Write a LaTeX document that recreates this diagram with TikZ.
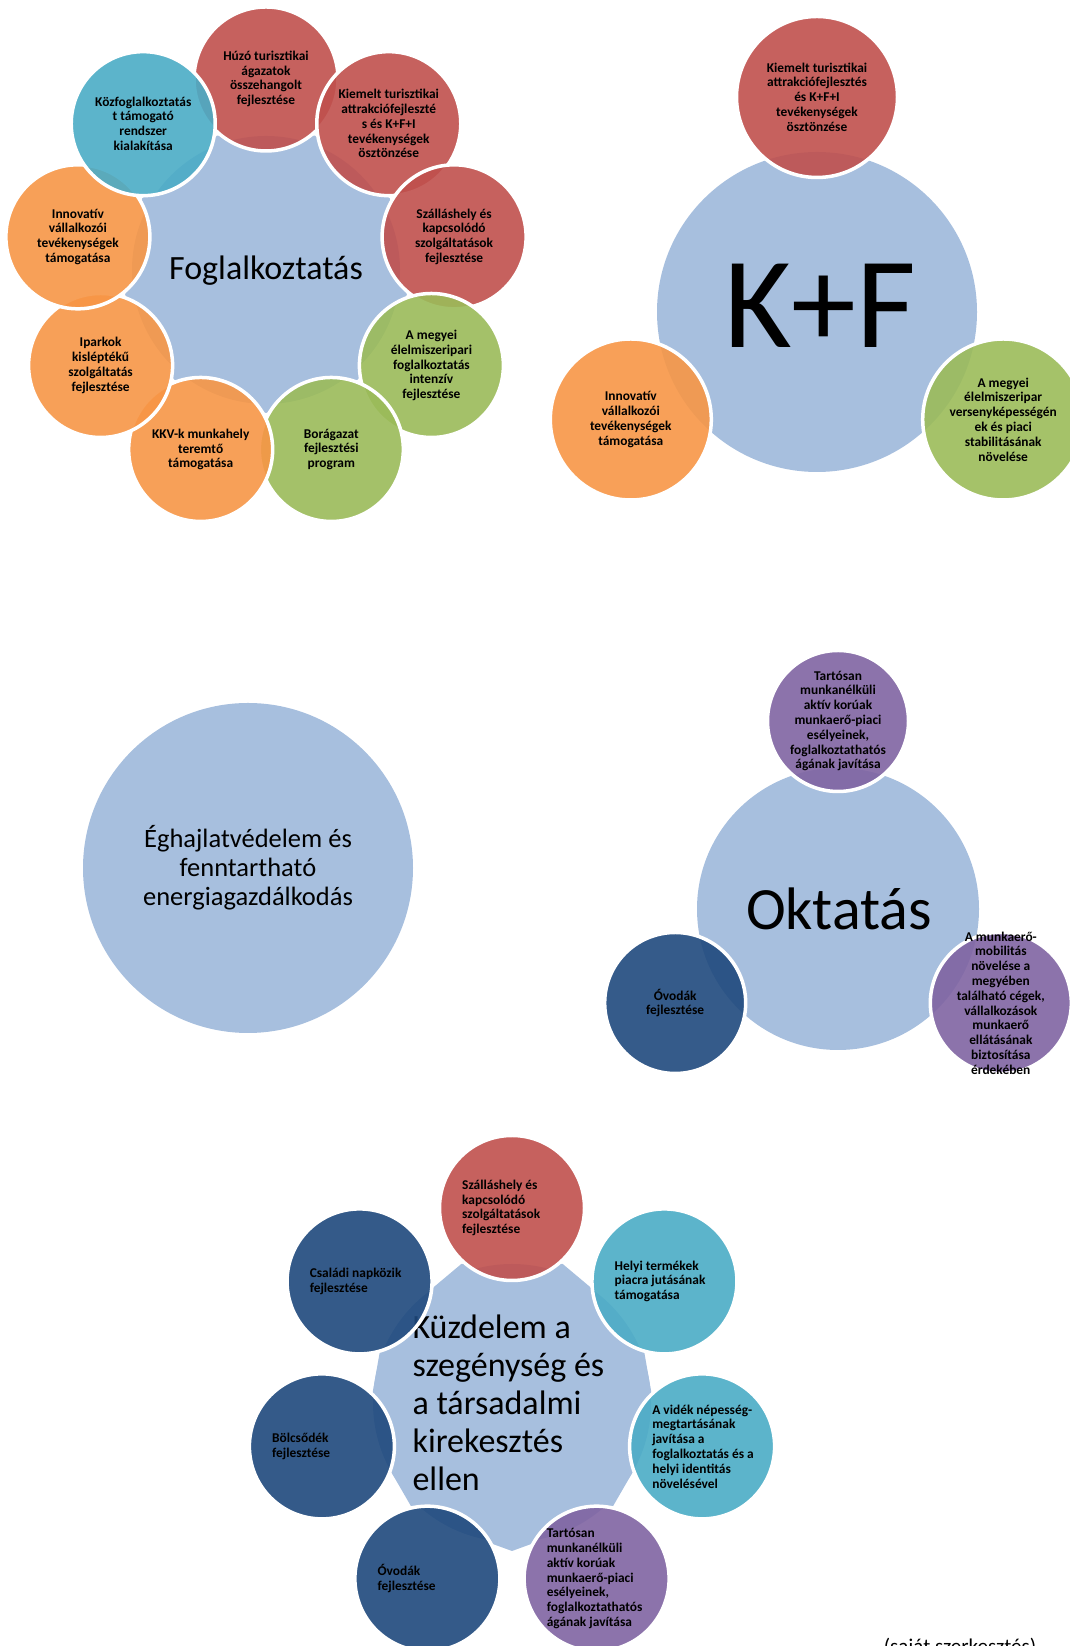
\documentclass[tikz,border=0pt]{standalone}
\usepackage{fontspec}
\setmainfont{Carlito}
\usetikzlibrary{calc}
\definecolor{cblue}{HTML}{A7BFDE}
\definecolor{cred}{HTML}{C0504D}
\definecolor{cgreen}{HTML}{9BBB59}
\definecolor{corange}{HTML}{F79646}
\definecolor{cteal}{HTML}{4BACC6}
\definecolor{cpurple}{HTML}{8064A2}
\definecolor{cnavy}{HTML}{1F497D}
\tikzset{
  satbase/.style={circle, draw=white, line width=3.5pt, fill opacity=0.9, draw opacity=1, inner sep=0pt},
  sata/.style={satbase, minimum size=144pt},
  satb/.style={satbase, minimum size=161pt},
  satc/.style={satbase, minimum size=141pt},
  satd/.style={satbase, minimum size=145pt},
  stxt/.style={font=\bfseries\fontsize{13.4}{14.8}\selectfont, align=center, inner sep=0pt, text=black},
  ltxt/.style={font=\bfseries\fontsize{13.4}{14.8}\selectfont, align=left, inner sep=0pt, anchor=west, text=black},
  hub/.style={circle, fill=cblue, inner sep=0pt},
}
\begin{document}
\begin{tikzpicture}[x=1pt,y=1pt]
\useasboundingbox (0,0) rectangle (1070,1646);
\clip (0,0) rectangle (1070,1646);

% ---------------- Section 1: Foglalkoztatás ----------------
\coordinate (c1) at (266,1376);
\fill[cblue] ($(c1)+(30:143)$) \foreach \a in {70,110,...,390} { -- ($(c1)+(\a:143)$) } -- cycle;
\foreach \a in {90,50,10,-30,-70,-110,-150,170,130} { \fill[white] ($(c1)+(\a:191)$) circle (72); }
\fill[cblue] (c1) circle (134);
\node[font=\fontsize{34}{40}\selectfont, anchor=base] (f0) at (266,1366) {Foglalkoztatás};
\node[sata, fill=cred]    (f1) at ($(c1)+(90:191)$) {};
\node[sata, fill=cred]    (f2) at ($(c1)+(50:191)$) {};
\node[sata, fill=cred]    (f3) at ($(c1)+(10:191)$) {};
\node[sata, fill=cgreen]  (f4) at ($(c1)+(-30:191)$) {};
\node[sata, fill=cgreen]  (f5) at ($(c1)+(-70:191)$) {};
\node[sata, fill=corange] (f6) at ($(c1)+(-110:191)$) {};
\node[sata, fill=corange] (f7) at ($(c1)+(-150:191)$) {};
\node[sata, fill=corange] (f8) at ($(c1)+(170:191)$) {};
\node[sata, fill=cteal]   (f9) at ($(c1)+(130:191)$) {};
\node[stxt] (f1t) at (f1) {Húzó turisztikai\\ágazatok\\összehangolt\\fejlesztése};
\node[stxt] (f2t) at (f2) {Kiemelt turisztikai\\attrakciófejleszté\\s és K+F+I\\tevékenységek\\ösztönzése};
\node[stxt] (f3t) at (f3) {Szálláshely és\\kapcsolódó\\szolgáltatások\\fejlesztése};
\node[stxt] (f4t) at (f4) {A megyei\\élelmiszeripari\\foglalkoztatás\\intenzív\\fejlesztése};
\node[stxt] (f5t) at (f5) {Borágazat\\fejlesztési\\program};
\node[stxt] (f6t) at (f6) {KKV-k munkahely\\teremtő\\támogatása};
\node[stxt] (f7t) at (f7) {Iparkok\\kisléptékű\\szolgáltatás\\fejlesztése};
\node[stxt] (f8t) at (f8) {Innovatív\\vállalkozói\\tevékenységek\\támogatása};
\node[stxt] (f9t) at (f9) {Közfoglalkoztatás\\t támogató\\rendszer\\kialakítása};

% ---------------- Section 2: K+F ----------------
\node[hub, minimum size=320pt] (k0) at (817,1334) {};
\node[font=\fontsize{130}{150}\selectfont, anchor=base] (k0t) at (820,1298) {K+F};
\node[satb, fill=cred]    (k1) at ($(k0)+(90:215)$) {};
\node[satb, fill=cgreen]  (k2) at ($(k0)+(-30:215)$) {};
\node[satb, fill=corange] (k3) at ($(k0)+(210:215)$) {};
\node[stxt] (k1t) at (k1) {Kiemelt turisztikai\\attrakciófejlesztés\\és K+F+I\\tevékenységek\\ösztönzése};
\node[stxt] (k2t) at (k2) {A megyei\\élelmiszeripar\\versenyképességén\\ek és piaci\\stabilitásának\\növelése};
\node[stxt] (k3t) at (k3) {Innovatív\\vállalkozói\\tevékenységek\\támogatása};

% ---------------- Section 3: Éghajlatvédelem ----------------
\node[hub, minimum size=330pt] (e0) at (248,778) {};
\node[font=\fontsize{26.5}{29}\selectfont, align=center] (e0t) at (248,778) {Éghajlatvédelem és\\fenntartható\\energiagazdálkodás};

% ---------------- Section 4: Oktatás ----------------
\node[hub, minimum size=282pt] (o0) at (838,737) {};
\node[font=\fontsize{60}{70}\selectfont, anchor=base] (o0t) at (839,716) {Oktatás};
\node[satc, fill=cpurple] (o1) at ($(o0)+(90:188)$) {};
\node[satc, fill=cpurple] (o2) at ($(o0)+(-30:188)$) {};
\node[satc, fill=cnavy]   (o3) at ($(o0)+(210:188)$) {};
\node[stxt] (o1t) at (o1) {Tartósan\\munkanélküli\\aktív korúak\\munkaerő-piaci\\esélyeinek,\\foglalkoztathatós\\ágának javítása};
\node[stxt] (o2t) at (o2) {A munkaerő-\\mobilitás\\növelése a\\megyében\\található cégek,\\vállalkozások\\munkaerő\\ellátásának\\biztosítása\\érdekében};
\node[stxt] (o3t) at (o3) {Óvodák\\fejlesztése};

% ---------------- Section 5: Küzdelem ----------------
\coordinate (c5) at (512,243);
\fill[cblue] ($(c5)+(30:148)$) \foreach \a in {70,110,...,390} { -- ($(c5)+(\a:148)$) } -- cycle;
\foreach \i in {0,...,6} { \fill[white] ($(c5)+({90-\i*360/7}:195)$) circle (72.5); }
\fill[cblue] (c5) circle (139);
\node[font=\fontsize{34}{38}\selectfont, align=left, anchor=west] (s0t) at (409,243) {Küzdelem a\\szegénység és\\a társadalmi\\kirekesztés\\ellen};
\node[satd, fill=cred]    (s1) at ($(c5)+(90:195)$) {};
\node[satd, fill=cteal]   (s2) at ($(c5)+({90-360/7}:195)$) {};
\node[satd, fill=cteal]   (s3) at ($(c5)+({90-2*360/7}:195)$) {};
\node[satd, fill=cpurple] (s4) at ($(c5)+({90-3*360/7}:195)$) {};
\node[satd, fill=cnavy]   (s5) at ($(c5)+({90-4*360/7}:195)$) {};
\node[satd, fill=cnavy]   (s6) at ($(c5)+({90-5*360/7}:195)$) {};
\node[satd, fill=cnavy]   (s7) at ($(c5)+({90-6*360/7}:195)$) {};
\node[ltxt] (s1t) at ($(s1)+(-50,0)$) {Szálláshely és\\kapcsolódó\\szolgáltatások\\fejlesztése};
\node[ltxt] (s2t) at ($(s2)+(-50,0)$) {Helyi termékek\\piacra jutásának\\támogatása};
\node[ltxt] (s3t) at ($(s3)+(-50,0)$) {A vidék népesség-\\megtartásának\\javítása a\\foglalkoztatás és a\\helyi identitás\\növelésével};
\node[ltxt] (s4t) at ($(s4)+(-50,0)$) {Tartósan\\munkanélküli\\aktív korúak\\munkaerő-piaci\\esélyeinek,\\foglalkoztathatós\\ágának javítása};
\node[ltxt] (s5t) at ($(s5)+(-50,0)$) {Óvodák\\fejlesztése};
\node[ltxt] (s6t) at ($(s6)+(-50,0)$) {Bölcsődék\\fejlesztése};
\node[ltxt] (s7t) at ($(s7)+(-50,0)$) {Családi napközik\\fejlesztése};

% ---------------- footer ----------------
\node[font=\fontsize{21}{25}\selectfont, anchor=base] (src) at (960,-7) {(saját szerkesztés)};
\end{tikzpicture}
\end{document}
